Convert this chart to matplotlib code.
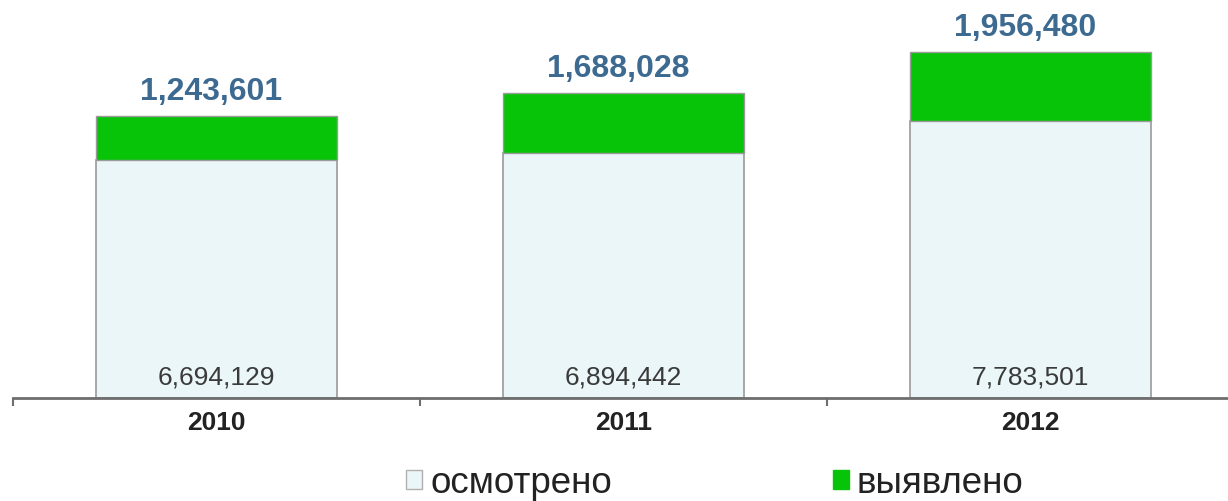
import matplotlib.pyplot as plt
from matplotlib.patches import Patch

# datos
anios = ['2010', '2011', '2012']
osmotreno = [6694129, 6894442, 7783501]
vyyavleno = [1243601, 1688028, 1956480]
nombres = ['осмотрено', 'выявлено']

plt.rcParams['font.family'] = ['Liberation Sans', 'DejaVu Sans']

fig = plt.figure(figsize=(12.28, 5.02), dpi=100)
ax = fig.add_axes([13 / 1228, 103 / 502, 1215 / 1228, 399 / 502])

x = list(range(len(anios)))
c_claro = '#eaf6f8'
c_verde = '#08c408'
borde = '#9a9a9a'

ax.bar(x, osmotreno, width=0.593, color=c_claro, edgecolor=borde, linewidth=1.2, zorder=2)
ax.bar(x, vyyavleno, width=0.593, bottom=osmotreno, color=c_verde, edgecolor=borde,
       linewidth=1.0, zorder=2)

for i in x:
    total = osmotreno[i] + vyyavleno[i]
    ax.annotate(f'{vyyavleno[i]:,}', (i, total), xytext=(-4, 7), textcoords='offset points',
                ha='center', va='bottom', fontsize=23, fontweight='bold', color='#3d6a91')
    ax.annotate(f'{osmotreno[i]:,}', (i, 0), xytext=(0, 7), textcoords='offset points',
                ha='center', va='bottom', fontsize=19, color='#3a3a3a')

ax.set_xlim(-0.5, 2.485)
ax.set_ylim(0, 11.22e6)

for s in ['top', 'right', 'left']:
    ax.spines[s].set_visible(False)
ax.spines['bottom'].set_color('#6e6e6e')
ax.spines['bottom'].set_linewidth(2)
ax.spines['bottom'].set_zorder(3)
ax.set_yticks([])

ax.set_xticks([-0.5, 0.5, 1.5])
ax.set_xticklabels([])
ax.tick_params(axis='x', direction='out', length=6, width=1.5, color='#6e6e6e')
ax.set_xticks(x, minor=True)
ax.set_xticklabels(anios, minor=True, fontsize=19, fontweight='bold', color='#222222')
ax.tick_params(axis='x', which='minor', length=0, pad=9)

manijas = [Patch(facecolor=c_claro, edgecolor='#b0b0b0', linewidth=1),
           Patch(facecolor=c_verde, edgecolor=c_verde, linewidth=1)]
fig.legend(manijas, nombres, loc='center', bbox_to_anchor=(0.582, 0.036), ncol=2,
           frameon=False, fontsize=26.5, handlelength=0.44, handleheight=0.44,
           handletextpad=0.22, columnspacing=6.0, labelcolor='#222222')

plt.savefig('out.png', dpi=100)
